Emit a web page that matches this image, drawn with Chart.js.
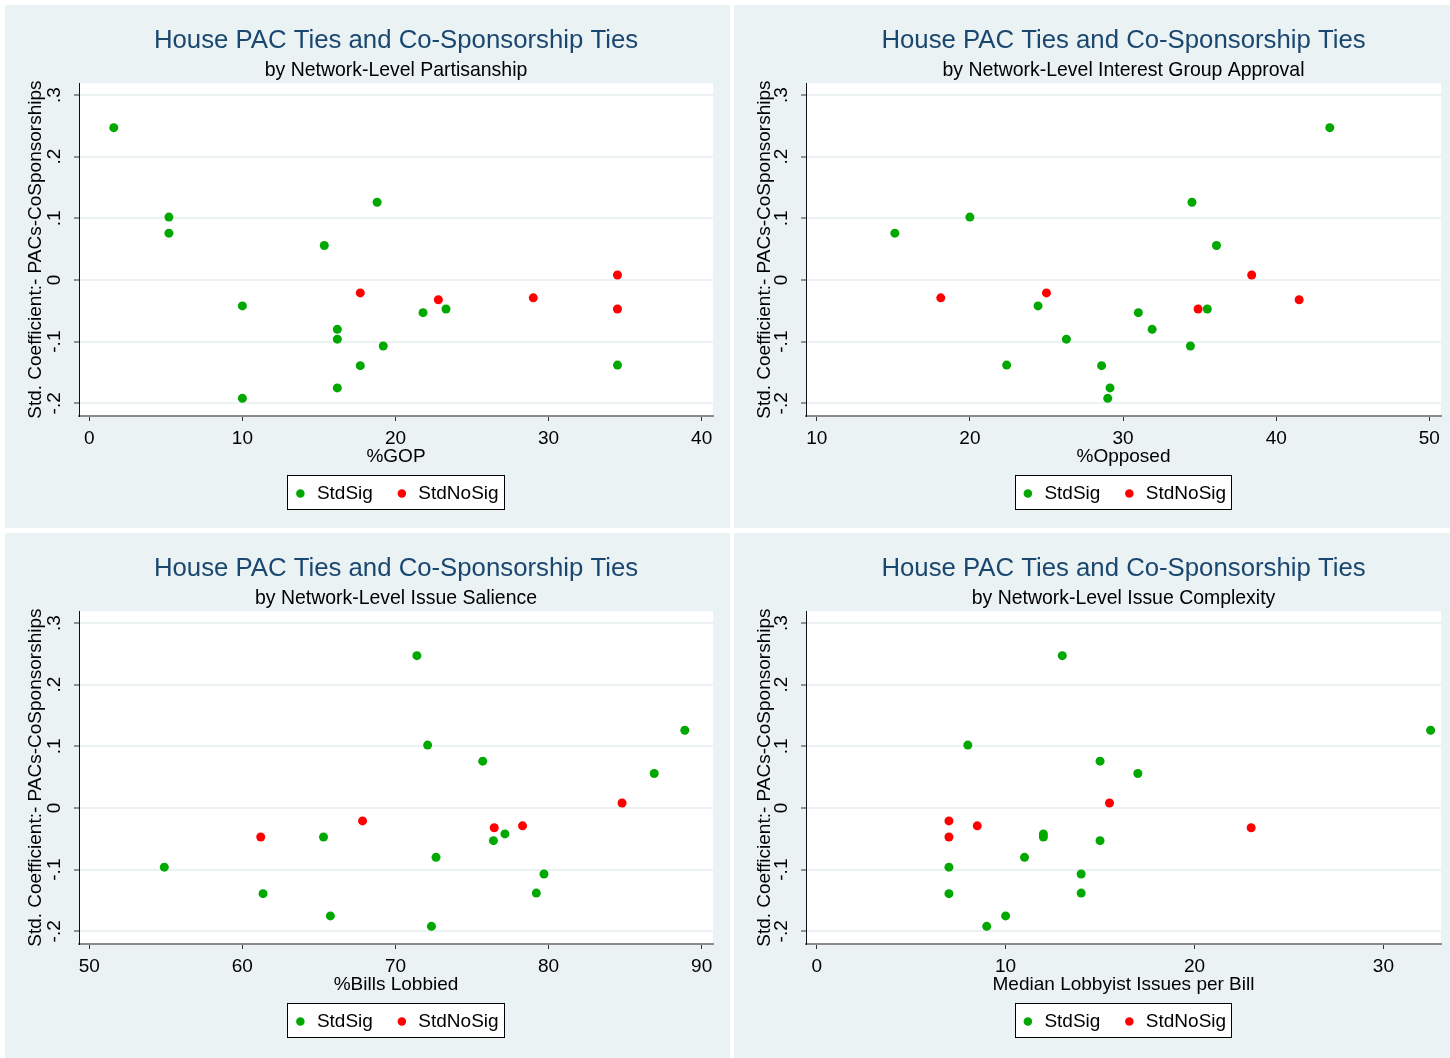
<!DOCTYPE html>
<html>
<head>
<meta charset="utf-8">
<title>House PAC Ties and Co-Sponsorship Ties</title>
<script src="https://cdn.jsdelivr.net/npm/chart.js@4.4.1/dist/chart.umd.min.js"></script>
<style>
  body { margin: 0; background: #fff; width: 1450px; height: 1058px; position: relative; overflow: hidden; }
  .panel { position: absolute; background: #eaf2f3; }
  canvas { display: block; }
</style>
</head>
<body>
<div class="panel" style="left:5px;top:5px;width:725px;height:523px"><canvas id="c1" width="725" height="523"></canvas></div>
<div class="panel" style="left:734px;top:5px;width:716px;height:523px"><canvas id="c2" width="716" height="523"></canvas></div>
<div class="panel" style="left:5px;top:533px;width:725px;height:525px"><canvas id="c3" width="725" height="523"></canvas></div>
<div class="panel" style="left:734px;top:533px;width:716px;height:525px"><canvas id="c4" width="716" height="523"></canvas></div>
<script>
// std. coefficient of each network (same 20 networks in every panel)
const sigCoef = [0.247, 0.126, 0.102, 0.076, 0.056, -0.042, -0.080, -0.096, -0.107, -0.139, -0.138, -0.175, -0.192, -0.053, -0.047];
const noSigCoef = [-0.021, -0.032, -0.029, 0.008, -0.047];

// x value of each network, per panel (same order as above)
const gopSig = [1.6, 18.8, 5.2, 5.2, 15.35, 10.0, 16.2, 16.2, 19.2, 17.7, 34.5, 16.2, 10.0, 21.8, 23.3];
const gopNoSig = [17.7, 22.8, 29.0, 34.5, 34.5];
const opposedSig = [43.5, 34.5, 20.0, 15.1, 36.1, 24.45, 31.9, 26.3, 34.4, 28.6, 22.4, 29.15, 29.0, 31.0, 35.5];
const opposedNoSig = [25.0, 41.5, 18.1, 38.4, 34.9];
const billsSig = [71.4, 88.9, 72.1, 75.7, 86.9, 77.15, 72.65, 54.9, 79.7, 61.35, 79.2, 65.75, 72.35, 76.4, 65.3];
const billsNoSig = [67.85, 76.45, 78.3, 84.8, 61.2];
const issuesSig = [13, 32.5, 8, 15, 17, 12, 11, 7, 14, 7, 14, 10, 9, 15, 12];
const issuesNoSig = [7, 23, 8.5, 15.5, 7];

// tick labels
const coefTicks = [-0.2, -0.1, 0, 0.1, 0.2, 0.3];
const gopTicks = [0, 10, 20, 30, 40];
const opposedTicks = [10, 20, 30, 40, 50];
const billsTicks = [50, 60, 70, 80, 90];
const issuesTicks = [0, 10, 20, 30];

const GREEN = "#00a800";
const RED = "#ff0000";
const FONT = '"Liberation Sans", Arial, sans-serif';
Chart.defaults.font.family = FONT;

const panels = [
  { id: "c1", sub: "by Network-Level Partisanship", xTitle: "%GOP", sig: gopSig, noSig: gopNoSig, ticks: gopTicks, min: -0.673, max: 40.74, yw: 74, padR: 17 },
  { id: "c2", sub: "by Network-Level Interest Group Approval", xTitle: "%Opposed", sig: opposedSig, noSig: opposedNoSig, ticks: opposedTicks, min: 9.30, max: 50.76, yw: 72, padR: 9 },
  { id: "c3", sub: "by Network-Level Issue Salience", xTitle: "%Bills Lobbied", sig: billsSig, noSig: billsNoSig, ticks: billsTicks, min: 49.33, max: 90.74, yw: 74, padR: 17 },
  { id: "c4", sub: "by Network-Level Issue Complexity", xTitle: "Median Lobbyist Issues per Bill", sig: issuesSig, noSig: issuesNoSig, ticks: issuesTicks, min: -0.567, max: 33.05, yw: 72, padR: 9 },
];

const fmtCoef = (v) => (v === 0 ? "0" : (v < 0 ? "-" : "") + String(Math.abs(v)).replace(/^0/, ""));

// white plot region + framed legend
const frame = {
  id: "frame",
  beforeDraw(chart) {
    const { ctx, chartArea: a, legend } = chart;
    ctx.save();
    ctx.fillStyle = "#fff";
    ctx.fillRect(a.left, a.top, a.right - a.left, a.bottom - a.top);
    const boxes = legend.legendHitBoxes;
    const first = boxes[0];
    const last = boxes[boxes.length - 1];
    const cy = first.top + first.height / 2;
    const l = Math.round(first.left - 6) + 0.5;
    const r = Math.round(last.left + last.width + 5) + 0.5;
    const t = Math.round(cy - 18) + 0.5;
    const b = Math.round(cy + 16) + 0.5;
    ctx.fillRect(l, t, r - l, b - t);
    ctx.strokeStyle = "#000";
    ctx.lineWidth = 1;
    ctx.strokeRect(l, t, r - l, b - t);
    ctx.restore();
  },
};

// Stata-style vertical y tick labels
const yLabels = {
  id: "yLabels",
  afterDraw(chart) {
    const { ctx } = chart;
    const y = chart.scales.y;
    ctx.save();
    ctx.font = "19px " + FONT;
    ctx.fillStyle = "#000";
    ctx.textAlign = "center";
    ctx.textBaseline = "middle";
    coefTicks.forEach((v) => {
      ctx.save();
      ctx.translate(y.right - 24, y.getPixelForValue(v));
      ctx.rotate(-Math.PI / 2);
      ctx.fillText(fmtCoef(v), 0, 0);
      ctx.restore();
    });
    ctx.restore();
  },
};

panels.forEach((p) => {
  new Chart(document.getElementById(p.id), {
    type: "scatter",
    data: {
      datasets: [
        {
          label: "StdSig",
          data: p.sig.map((x, i) => ({ x, y: sigCoef[i] })),
          backgroundColor: GREEN,
          borderColor: GREEN,
          borderWidth: 0,
          pointRadius: 4.5,
          pointBorderWidth: 0,
        },
        {
          label: "StdNoSig",
          data: p.noSig.map((x, i) => ({ x, y: noSigCoef[i] })),
          backgroundColor: RED,
          borderColor: RED,
          borderWidth: 0,
          pointRadius: 4.5,
          pointBorderWidth: 0,
        },
      ],
    },
    options: {
      responsive: false,
      animation: false,
      devicePixelRatio: 1,
      layout: { padding: { left: 0, top: 0, right: p.padR, bottom: 15.1 } },
      scales: {
        x: {
          type: "linear",
          min: p.min,
          max: p.max,
          afterBuildTicks: (s) => { s.ticks = p.ticks.map((v) => ({ value: v })); },
          afterFit: (s) => { s.height = 45.9; s.paddingLeft = 0; s.paddingRight = 0; },
          ticks: { color: "#000", font: { size: 19 }, padding: 6, maxRotation: 0, autoSkip: false },
          grid: { drawOnChartArea: false, tickColor: "#333", tickLength: 5, tickWidth: 1 },
          border: { color: "#8a8a8a", width: 2 },
          title: { display: true, text: p.xTitle, color: "#000", font: { size: 19 }, padding: { top: 0, bottom: -6.5 } },
        },
        y: {
          min: -0.2206,
          max: 0.319,
          afterBuildTicks: (s) => { s.ticks = coefTicks.map((v) => ({ value: v })); },
          afterFit: (s) => { s.width = p.yw; s.paddingTop = 0; s.paddingBottom = 0; },
          ticks: { display: false },
          grid: { color: "#eaf2f3", lineWidth: 2, tickColor: "#333", tickLength: 5, tickWidth: 1 },
          border: { color: "#111", width: 1 },
          title: { display: true, text: "Std. Coefficient:- PACs-CoSponsorships", color: "#000", font: { size: 19 }, padding: { top: 19, bottom: 0 } },
        },
      },
      plugins: {
        title: {
          display: true,
          fullSize: false,
          text: "House PAC Ties and Co-Sponsorship Ties",
          color: "#1a476f",
          font: { size: 25.75, weight: "normal" },
          padding: { top: 20.55, bottom: 0 },
        },
        subtitle: {
          display: true,
          fullSize: false,
          text: p.sub,
          color: "#000",
          font: { size: 19.45, weight: "normal" },
          padding: { top: 2.38, bottom: 1.13 },
        },
        legend: {
          position: "bottom",
          fullSize: false,
          labels: { usePointStyle: true, pointStyle: "circle", boxWidth: 14, boxHeight: 6, padding: 22, color: "#000", font: { size: 19 } },
        },
        tooltip: { enabled: false },
      },
    },
    plugins: [frame, yLabels],
  });
});
</script>
</body>
</html>
